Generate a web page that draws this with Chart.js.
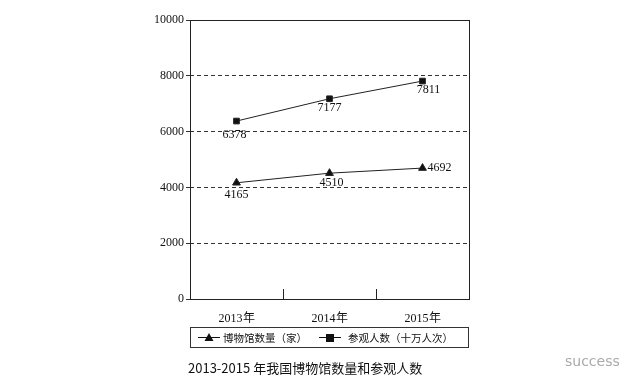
<!DOCTYPE html>
<html lang="zh-CN">
<head>
<meta charset="UTF-8">
<title>2013-2015年我国博物馆数量和参观人数</title>
<script src="https://cdn.jsdelivr.net/npm/chart.js"></script>
<style>
  body { margin: 0; background: #fff; }
  #wrap { position: relative; width: 640px; height: 392px; overflow: hidden; }
  #grafico { position: absolute; left: 0; top: 0; }
  .legenda {
    position: absolute; left: 190px; top: 327px; width: 277px; height: 19px;
    border: 1px solid #333; font: 10.5px "Noto Sans CJK SC", sans-serif; color: #111;
  }
  .legenda span { position: absolute; top: 2px; white-space: nowrap; }
  .legenda canvas { position: absolute; top: 0; }
  .titulo {
    position: absolute; left: 188px; top: 358px; font: 13px "Noto Sans CJK SC", sans-serif;
    color: #111; white-space: nowrap;
  }
  .marca { position: absolute; left: 565px; top: 353px; font: 14px "DejaVu Sans", sans-serif; color: #aaa; }
</style>
</head>
<body>
<div id="wrap">
  <canvas id="grafico" width="640" height="392"></canvas>
  <div class="legenda">
    <canvas id="ic1" width="24" height="19" style="left:6px"></canvas>
    <span style="left:32px">博物馆数量（家）</span>
    <canvas id="ic2" width="24" height="19" style="left:127px"></canvas>
    <span style="left:157px">参观人数（十万人次）</span>
  </div>
  <div class="titulo">2013-2015 年我国博物馆数量和参观人数</div>
  <div class="marca">success</div>
</div>
<script>
// dados
const anos = ['2013年', '2014年', '2015年'];
const museus = [4165, 4510, 4692];        // 博物馆数量（家）
const visitantes = [6378, 7177, 7811];    // 参观人数（十万人次）
const ticksY = [0, 2000, 4000, 6000, 8000, 10000];

// posição dos rótulos em relação ao ponto [dx, dy, align]
const rotMuseus = [[0, 12, 'center'], [2, 10, 'center'], [5, 0, 'left']];
const rotVisit = [[-2, 14, 'center'], [0, 9, 'center'], [6, 9, 'center']];

const rotulos = {
  id: 'rotulos',
  afterDatasetsDraw(chart) {
    const ctx = chart.ctx;
    ctx.save();
    ctx.font = '12px "Liberation Serif", serif';
    ctx.fillStyle = '#111';
    ctx.textBaseline = 'middle';
    [rotMuseus, rotVisit].forEach((conf, d) => {
      chart.getDatasetMeta(d).data.forEach((p, i) => {
        const [dx, dy, al] = conf[i];
        ctx.textAlign = al;
        ctx.fillText(String(chart.data.datasets[d].data[i]), p.x + dx, p.y + dy);
      });
    });
    ctx.restore();
  }
};

// moldura e marcas internas do eixo x
const moldura = {
  id: 'moldura',
  afterDraw(chart) {
    const { ctx, chartArea: a } = chart;
    const x = chart.scales.x;
    ctx.save();
    ctx.strokeStyle = '#222';
    ctx.lineWidth = 1;
    ctx.strokeRect(a.left + 0.5, a.top + 0.5, a.right - a.left, a.bottom - a.top);
    ctx.beginPath();
    for (let i = 1; i < anos.length; i++) {
      const px = Math.round((x.getPixelForTick(i - 1) + x.getPixelForTick(i)) / 2) + 0.5;
      ctx.moveTo(px, a.bottom);
      ctx.lineTo(px, a.bottom - 10);
    }
    ctx.stroke();
    ctx.restore();
  }
};

new Chart(document.getElementById('grafico'), {
  type: 'line',
  data: {
    labels: anos,
    datasets: [
      {
        label: '博物馆数量（家）',
        data: museus,
        borderColor: '#222', backgroundColor: '#111', borderWidth: 1,
        pointStyle: 'triangle', pointRadius: 4.5, tension: 0
      },
      {
        label: '参观人数（十万人次）',
        data: visitantes,
        borderColor: '#222', backgroundColor: '#111', borderWidth: 1,
        pointStyle: 'rect', pointRadius: 4, tension: 0
      }
    ]
  },
  options: {
    responsive: false,
    animation: false,
    layout: { padding: { left: 140, right: 171, top: 20, bottom: 69 } },
    plugins: { legend: { display: false }, tooltip: { enabled: false } },
    scales: {
      x: {
        offset: true,
        grid: { display: false },
        border: { display: false },
        ticks: { color: '#111', font: { family: 'Liberation Serif', size: 12 }, padding: 5 },
        afterFit: s => { s.height = 24; }
      },
      y: {
        min: 0, max: 10000,
        afterBuildTicks: s => { s.ticks = ticksY.map(v => ({ value: v })); },
        grid: { color: '#333', tickLength: 4, lineWidth: 1 },
        border: { display: false, dash: [4, 3] },
        ticks: {
          color: '#111', font: { family: 'Liberation Serif', size: 12 }, padding: 2,
          callback: v => String(v)
        },
        afterFit: s => { s.width = 50; }
      }
    }
  },
  plugins: [rotulos, moldura]
});

// ícones da legenda
function icone(id, tipo) {
  const c = document.getElementById(id).getContext('2d');
  c.strokeStyle = '#111'; c.fillStyle = '#111'; c.lineWidth = 1;
  c.beginPath(); c.moveTo(1, 9.5); c.lineTo(23, 9.5); c.stroke();
  c.beginPath();
  if (tipo === 'tri') { c.moveTo(12, 5); c.lineTo(16.5, 13); c.lineTo(7.5, 13); c.closePath(); c.fill(); }
  else { c.fillRect(8, 6, 8, 8); }
}
icone('ic1', 'tri');
icone('ic2', 'rect');
</script>
</body>
</html>
